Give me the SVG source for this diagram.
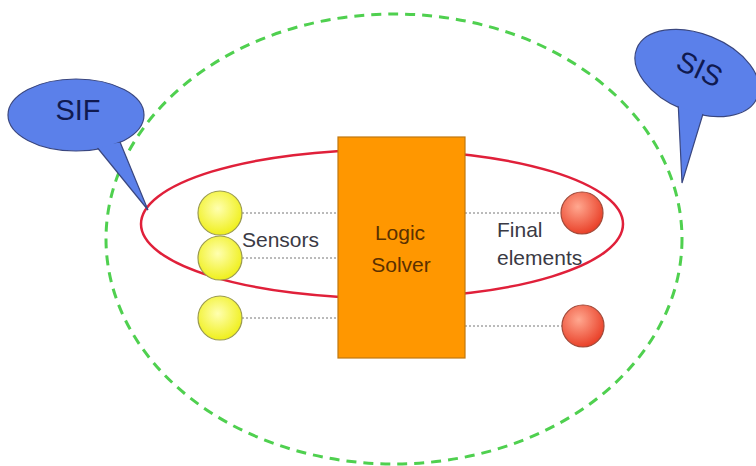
<svg xmlns="http://www.w3.org/2000/svg" width="756" height="466" viewBox="0 0 756 466">
<defs>
<radialGradient id="gy" cx="0.45" cy="0.4" r="0.65">
<stop offset="0" stop-color="#ffffb0"/>
<stop offset="1" stop-color="#eeee10"/>
</radialGradient>
<radialGradient id="gr" cx="0.4" cy="0.35" r="0.7">
<stop offset="0" stop-color="#ffa890"/>
<stop offset="1" stop-color="#e83a22"/>
</radialGradient>
<style>
.lbl{font-family:"Liberation Sans",Arial,sans-serif;font-size:21px;fill:#3a3a44}
.ls{font-family:"Liberation Sans",Arial,sans-serif;font-size:21px;fill:#5a3000}
.co{font-family:"Liberation Sans",Arial,sans-serif;font-size:29px;fill:#101a50}
.bub{fill:#5b80ea;stroke:#3a4780;stroke-width:1.2}
.bubf{fill:#5b80ea}
.ys{fill:url(#gy);stroke:#9a9a50;stroke-width:1.2}
.rs{fill:url(#gr);stroke:#a04838;stroke-width:1.2}
.dl{stroke:#777777;stroke-width:1;stroke-dasharray:2 2;fill:none}
</style>
</defs>
<rect width="756" height="466" fill="#ffffff"/>
<g id="sis-boundary">
<ellipse cx="394" cy="239" rx="288" ry="225" fill="none" stroke="#4fd04f" stroke-width="3" stroke-dasharray="10 7"/>
</g>
<g id="sif-boundary">
<ellipse cx="382" cy="224" rx="241" ry="74" fill="none" stroke="#e0203a" stroke-width="2.5"/>
</g>
<g id="connectors">
<line class="dl" x1="242" y1="213" x2="338" y2="213"/>
<line class="dl" x1="242" y1="258" x2="338" y2="258"/>
<line class="dl" x1="242" y1="318" x2="338" y2="318"/>
<line class="dl" x1="465" y1="213" x2="561" y2="213"/>
<line class="dl" x1="465" y1="326" x2="562" y2="326"/>
</g>
<g id="logic-solver">
<rect x="338" y="137" width="127" height="221" fill="#ff9700" stroke="#c07810" stroke-width="1.2"/>
<text class="ls" x="400" y="240" text-anchor="middle">Logic</text>
<text class="ls" x="401" y="272" text-anchor="middle">Solver</text>
</g>
<g id="sensor-1"><circle class="ys" cx="220" cy="213" r="22"/></g>
<g id="sensor-2"><circle class="ys" cx="220" cy="258" r="22"/></g>
<g id="sensor-3"><circle class="ys" cx="220" cy="318" r="22"/></g>
<g id="sensors-label"><text class="lbl" x="242" y="247">Sensors</text></g>
<g id="final-1"><circle class="rs" cx="582" cy="213" r="21"/></g>
<g id="final-2"><circle class="rs" cx="583" cy="326" r="21"/></g>
<g id="final-label">
<text class="lbl" x="497" y="237">Final</text>
<text class="lbl" x="497" y="265">elements</text>
</g>
<g id="sif-callout">
<ellipse class="bub" cx="76" cy="115" rx="68" ry="36"/>
<polygon class="bub" points="96,146 148,210 120,142"/>
<ellipse class="bubf" cx="76" cy="115" rx="67" ry="35"/>
<text class="co" x="78" y="120" text-anchor="middle">SIF</text>
</g>
<g id="sis-callout">
<ellipse class="bub" cx="697" cy="73" rx="65" ry="39" transform="rotate(22 697 73)"/>
<polygon class="bub" points="678,100 682,183 706,104"/>
<ellipse class="bubf" cx="697" cy="73" rx="64" ry="38" transform="rotate(22 697 73)"/>
<text class="co" x="700" y="79" text-anchor="middle" transform="rotate(25 700 68)">SIS</text>
</g>
</svg>
